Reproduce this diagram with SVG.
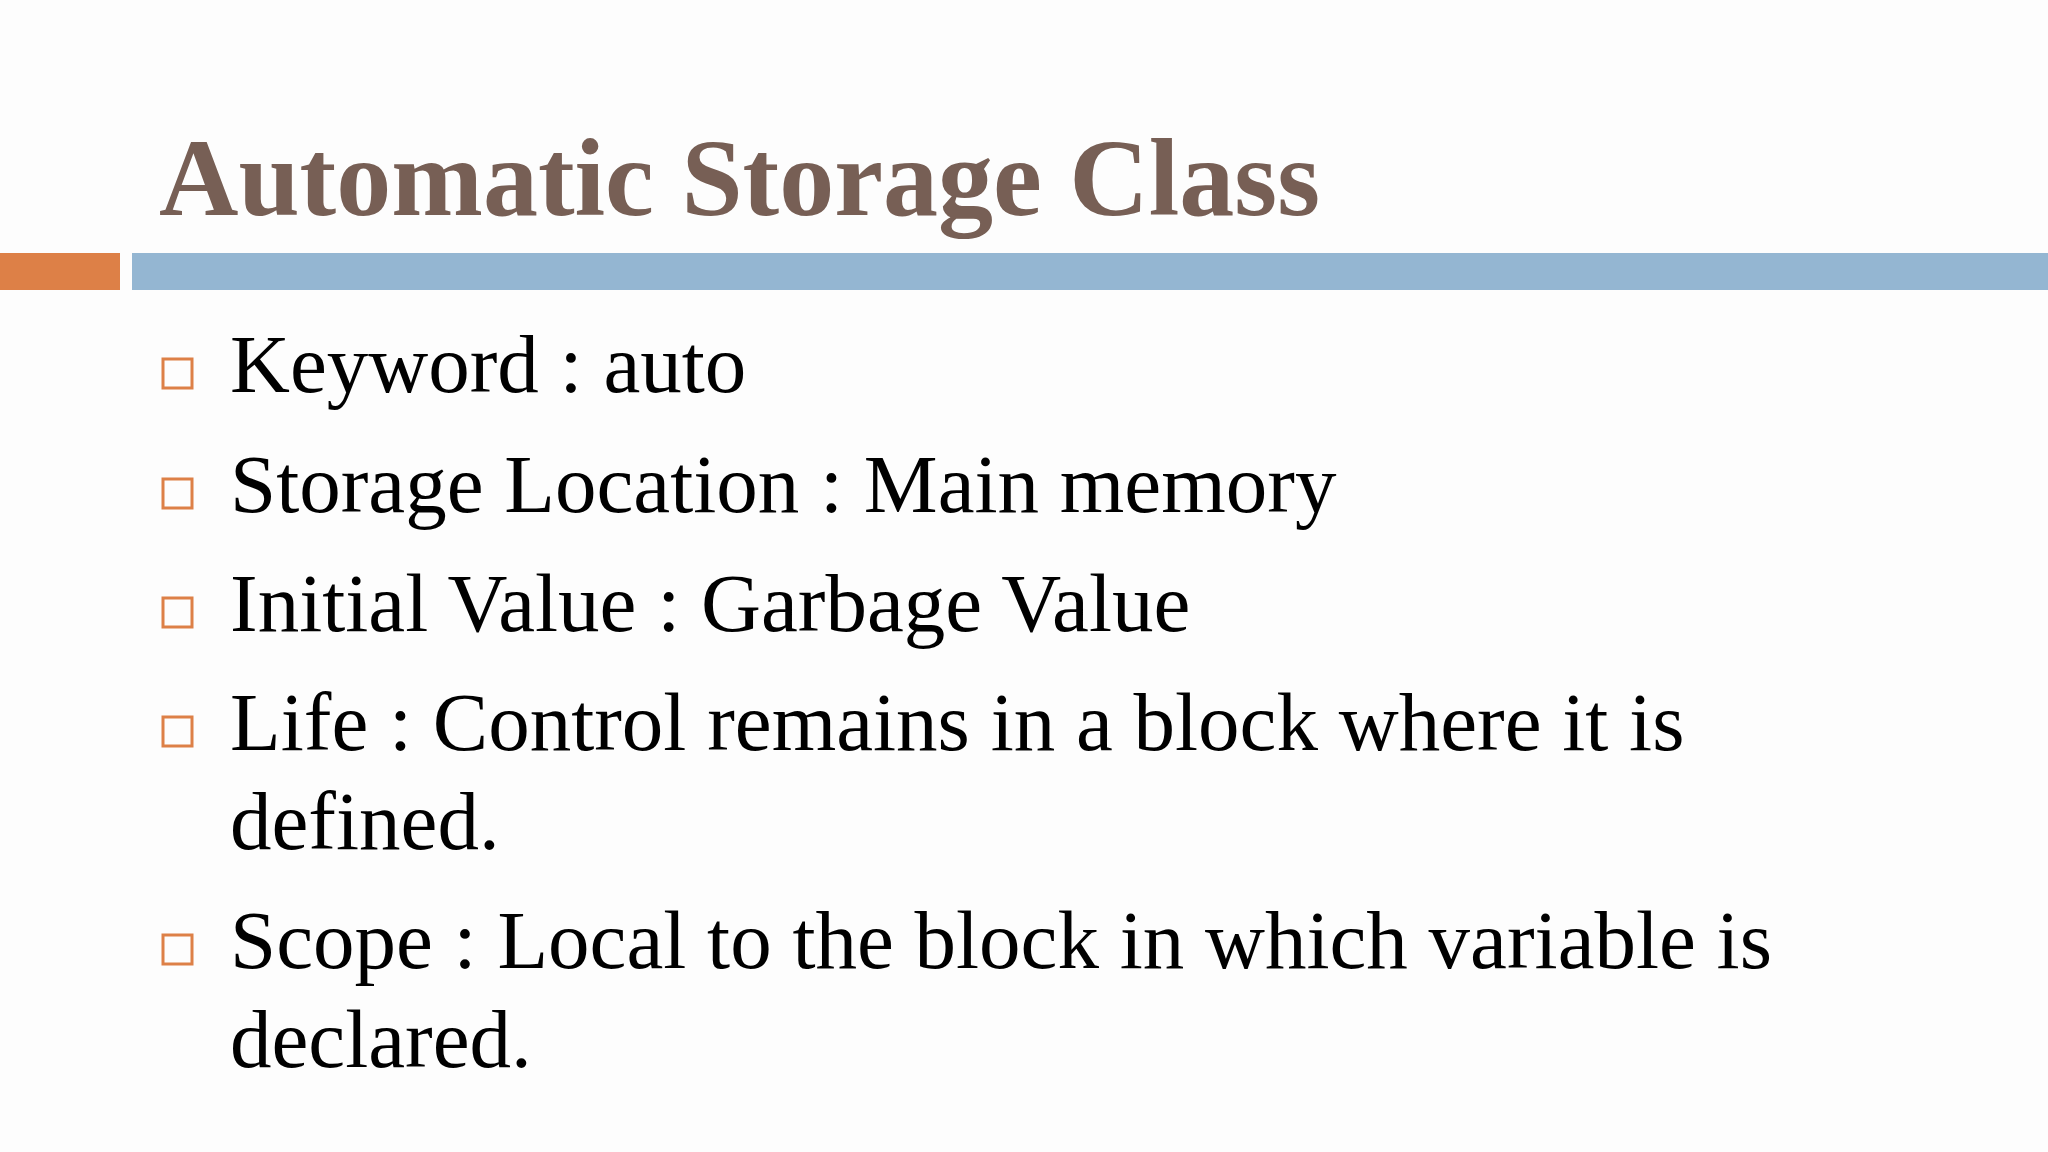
<svg xmlns="http://www.w3.org/2000/svg" width="2048" height="1152" viewBox="0 0 2048 1152">
<style>
.t{font-family:"Liberation Serif","Times New Roman",serif;font-size:83px;fill:#000}
.b{fill:none;stroke:#dd8047;stroke-width:3}
</style>
<rect width="2048" height="1152" fill="#fdfdfd"/>
<g id="title"><text x="159" y="215" font-family="Liberation Serif, serif" font-weight="bold" font-size="110" fill="#775f55">Automatic Storage Class</text></g>
<g id="bars"><rect x="0" y="253" width="120" height="37" fill="#dd8047"/><rect x="132" y="253" width="1916" height="37" fill="#94b6d2"/></g>
<g id="bullets">
<rect class="b" x="163" y="359" width="29" height="29"/>
<rect class="b" x="163" y="479" width="29" height="29"/>
<rect class="b" x="163" y="598" width="29" height="29"/>
<rect class="b" x="163" y="717" width="29" height="29"/>
<rect class="b" x="163" y="935" width="29" height="29"/>
</g>
<g id="text">
<text class="t" x="230" y="392">Keyword : auto</text>
<text class="t" x="230" y="512">Storage Location : Main memory</text>
<text class="t" x="230" y="631">Initial Value : Garbage Value</text>
<text class="t" x="230" y="750">Life : Control remains in a block where it is</text>
<text class="t" x="230" y="849">defined.</text>
<text class="t" x="230" y="968">Scope : Local to the block in which variable is</text>
<text class="t" x="230" y="1067">declared.</text>
</g>
<g id="connectors"/>
</svg>
